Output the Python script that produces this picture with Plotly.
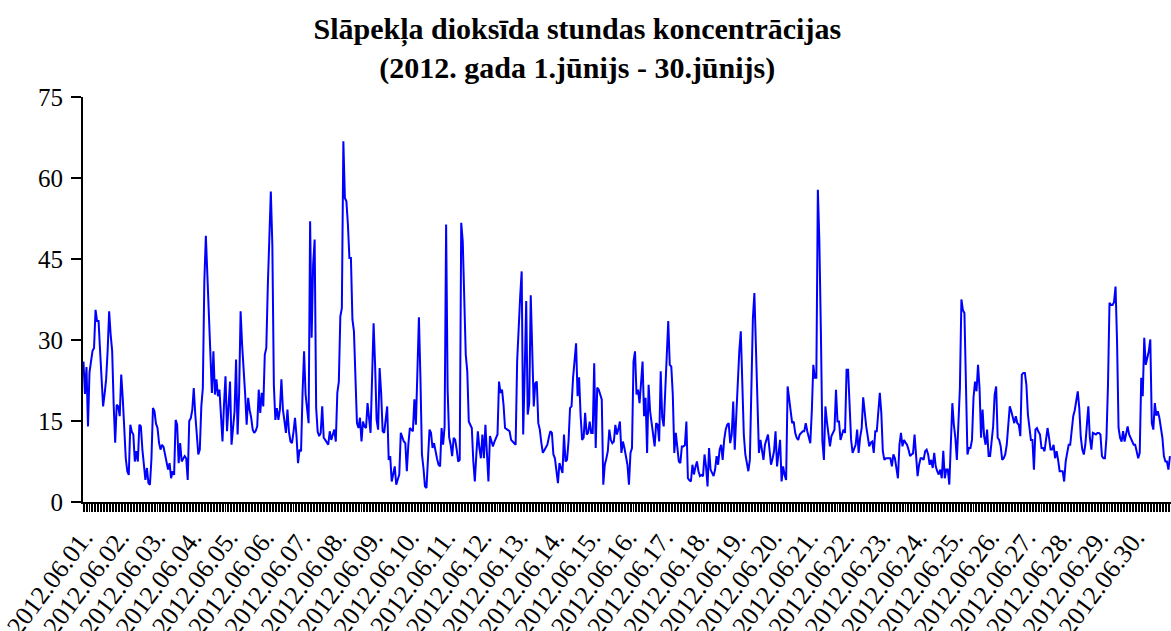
import plotly.graph_objects as go

# Hourly NO2 concentrations, 24 values per day (June 2012)
day_01 = [26, 20, 25, 14, 24, 26, 28, 28.5, 35.6, 33.5, 33.5, 28, 22, 17.7, 20, 22.7, 28, 35.3, 31, 28, 18, 11, 18, 17.7]
day_02 = [15.9, 23.6, 19.3, 14, 8.1, 5.7, 5.0, 14.3, 13, 12.5, 7.5, 9.4, 7.5, 14.3, 14, 9.7, 6, 4.1, 6.3, 3.5, 3.2, 8, 17.4, 16.8]
day_03 = [14.5, 13.7, 11, 9.7, 10.6, 10.2, 8.8, 7.5, 6, 7.2, 4.4, 5.7, 5, 15.2, 14.3, 7.2, 10.9, 7.5, 8, 8.5, 8.1, 4.1, 15, 15.5]
day_04 = [17, 21.1, 16.2, 12, 8.8, 9.7, 17.7, 21.1, 40.9, 49.3, 42.7, 34.1, 26.7, 20.2, 27.9, 19.9, 22.7, 19.6, 20.8, 15, 11.2, 18, 23.3, 13.1]
day_05 = [17, 22.3, 10.6, 14, 16.8, 26.4, 12.5, 20, 35.3, 29.1, 25.4, 20, 14.3, 19.3, 17, 15.6, 13.4, 12.8, 13.2, 14, 20.8, 16.5, 20.2, 17.7]
day_06 = [27.3, 28.5, 40, 51.4, 57.5, 47.7, 21.7, 15.2, 17.4, 15.2, 17.1, 22.7, 17.1, 15, 12.8, 17.1, 13, 11.2, 10.9, 13, 15.6, 12.2, 7.2, 9.7]
day_07 = [9.4, 20.2, 27.9, 19.9, 17, 14.6, 52, 30.4, 44, 48.6, 17.4, 13, 12.2, 12.8, 17.7, 11.9, 11.5, 11, 10.6, 13.1, 11.5, 12.5, 13.4, 11.2]
day_08 = [20.2, 22.3, 34.4, 35.9, 66.8, 56.3, 55.7, 51.4, 45.2, 45.2, 33.8, 31.6, 23, 14.6, 13.7, 15.6, 11.2, 14.9, 14, 13.7, 18.3, 15, 12.8, 23]
day_09 = [33.1, 25.4, 15.2, 13.4, 24.8, 20.2, 13.1, 12.8, 15, 17.7, 7.8, 8.5, 3.8, 5, 6.6, 3.2, 4, 5.1, 12.8, 11.9, 11.2, 10.9, 5.7, 10.6]
day_10 = [13.7, 13.4, 13.1, 19, 14.3, 24.2, 34.2, 23, 8.8, 6.3, 2.9, 2.6, 8, 13.4, 12.8, 10, 10.9, 9.1, 8, 6.9, 6.6, 13.7, 10.6, 14]
day_11 = [51.4, 20.8, 12, 10.6, 8.5, 11.9, 11.5, 9.7, 7.5, 7.8, 51.7, 48.3, 39, 27.3, 24.2, 14.9, 14.3, 13.7, 7.5, 3.8, 8.8, 13.1, 10, 8.1]
day_12 = [12.5, 8.1, 14.3, 9.4, 3.8, 12.2, 11, 10.3, 11.2, 11.8, 12.5, 22.3, 20.2, 20.8, 18, 13.7, 13.4, 13.3, 13.1, 11.5, 11.2, 10.9, 10.6, 26]
day_13 = [32.8, 38, 42.7, 12.5, 24, 37.2, 16.2, 18.3, 38.3, 25, 17.7, 22, 22.3, 14.6, 13.4, 11, 9.1, 9.6, 10, 10.6, 12, 13.1, 12.8, 8.8]
day_14 = [8.1, 5.7, 3.5, 7.2, 6.3, 5.4, 12.5, 7.5, 7.8, 11.2, 17.4, 17.7, 23, 26, 29.4, 19.6, 23.1, 16, 11.5, 11.9, 16.5, 12.5, 12.8, 14.9]
day_15 = [12.8, 12.8, 25.7, 10, 21.2, 20.8, 20, 19, 3.2, 6.9, 8, 9.4, 13.4, 11.5, 10.9, 11.2, 14.3, 12.5, 13.5, 14.9, 9.1, 11.2, 10, 8.1]
day_16 = [6.9, 3.2, 9.1, 10, 26, 27.9, 19.9, 20.8, 18.3, 22, 26, 15.9, 19.3, 9.1, 21.7, 16.8, 14.3, 12, 10.3, 14.6, 14.3, 11.2, 24.2, 15.6]
day_17 = [14, 20.5, 26, 33.5, 25.4, 25.1, 19.9, 9.1, 12.8, 10, 7.5, 7.2, 10.3, 10.3, 10.5, 14.9, 4.4, 4, 3.8, 6.9, 5.1, 6.5, 7.5, 5.7]
day_18 = [4.8, 5, 4.8, 8.8, 6.6, 2.9, 10, 6, 5.4, 4.8, 6, 8.5, 6.9, 9.7, 10.6, 7.8, 11.5, 13.4, 14.3, 14.6, 10.9, 12.5, 18.6, 9.7]
day_19 = [15.9, 23, 27.9, 31.6, 22.3, 12.5, 8.8, 7, 5.7, 7.8, 23.6, 34, 38.7, 27.3, 18, 9.1, 11.5, 9.5, 7.8, 10.6, 11.5, 12.5, 9.7, 6.9]
day_20 = [8, 9.4, 13.1, 6.6, 9, 11.5, 3.8, 6.6, 5, 4.1, 21.4, 19, 17, 14.6, 14.9, 12.8, 11.9, 11.5, 12.5, 12.8, 13.1, 13.1, 14.6, 13.1]
day_21 = [12, 10.9, 16.8, 25.4, 23, 23, 57.8, 48.3, 31.6, 11.2, 7.8, 17.7, 14.9, 12, 10.3, 12.2, 13, 13.4, 20.8, 14.9, 14.9, 11.5, 12.5, 13.4]
day_22 = [12.8, 24.5, 24.5, 16.5, 11.5, 9.1, 9.8, 10.6, 13.4, 9.1, 12, 13.7, 19.4, 16, 14, 12.2, 10.3, 11, 11.2, 9.1, 13.1, 13.1, 17.7, 20.2]
day_23 = [16.5, 9.4, 7.8, 8.1, 8.1, 8.1, 8.1, 6.6, 8.8, 8.1, 6, 4.4, 10.6, 12.8, 10.3, 11.5, 11, 10.6, 9.7, 8.5, 8.8, 9, 12.5, 7.5]
day_24 = [4.8, 6.9, 8.1, 8.1, 7.8, 9.4, 9.7, 8.8, 6.9, 7.8, 6.3, 9.1, 6.6, 5.7, 5.1, 6, 4.4, 9.5, 4.4, 6, 6, 3.2, 11.2, 18.3]
day_25 = [14.3, 11.9, 7.8, 14.3, 21.1, 37.5, 35.5, 35, 18, 8.8, 10, 10, 11.5, 19.3, 22.3, 20.5, 25.4, 21.1, 11.9, 17.1, 12.2, 10.6, 13.4, 8.5]
day_26 = [8.5, 11.2, 14, 19.9, 21.4, 11.9, 11.5, 10.3, 7.8, 8.1, 8.8, 10.6, 14, 17.7, 16.8, 15.9, 14.6, 15.9, 14.6, 14.3, 12.2, 23.6, 23.9, 23.9]
day_27 = [21.7, 16.2, 14, 11.5, 11.5, 6, 13.4, 13.7, 13, 12.5, 10, 10, 9.4, 11.5, 13.7, 11.9, 9.7, 9.7, 10.6, 8.1, 9.4, 7.8, 5.7, 5.7]
day_28 = [5.7, 3.8, 7.5, 9.1, 10.6, 10.6, 13, 15.9, 17, 18.6, 20.5, 17.4, 12, 9.7, 8.8, 10.6, 14, 17.7, 11.9, 9.7, 12.8, 12.6, 12.5, 12.8]
day_29 = [12.8, 12.5, 8.5, 8.1, 8.1, 12, 21.7, 36.9, 36.5, 36.5, 37, 39.9, 29.8, 13.7, 11.9, 11.2, 13.1, 11.2, 12.5, 14, 12.5, 11.8, 11.2, 10.6]
day_30 = [10.6, 9.5, 8.1, 9.1, 23, 19.6, 30.4, 25.4, 26.5, 27.9, 30.1, 14.6, 13.4, 18.3, 16, 16.8, 15.6, 13.4, 11.9, 8.5, 7.5, 7.5, 6, 8.5]

days = [day_01, day_02, day_03, day_04, day_05, day_06, day_07, day_08, day_09, day_10,
        day_11, day_12, day_13, day_14, day_15, day_16, day_17, day_18, day_19, day_20,
        day_21, day_22, day_23, day_24, day_25, day_26, day_27, day_28, day_29, day_30]

date_labels = ["2012.06.%02d." % d for d in range(1, 31)]
y_ticks = [0, 15, 30, 45, 60, 75]

no2 = [v for d in days for v in d]
hours = list(range(len(no2)))
day_starts = [24 * k for k in range(len(days))]

SERIF = "Liberation Serif, Times New Roman, serif"

fig = go.Figure(go.Scatter(
    x=hours, y=no2, mode="lines",
    line=dict(color="#0000FF", width=2),
    showlegend=False, hoverinfo="skip",
))

fig.update_layout(
    width=1171, height=631,
    margin=dict(l=83, r=0, t=97, b=129),
    paper_bgcolor="white", plot_bgcolor="white",
    title=dict(
        text="<b>Slāpekļa dioksīda stundas koncentrācijas</b><br><b>(2012. gada 1.jūnijs - 30.jūnijs)</b>",
        font=dict(family=SERIF, size=30, color="black"),
        x=0.493, xref="container", xanchor="center",
        y=1 - 38.5 / 631, yref="container", yanchor="middle",
    ),
)

fig.update_xaxes(
    range=[-0.3, 719.7], showgrid=False, zeroline=False,
    showline=True, linecolor="black", linewidth=2,
    tickmode="array", tickvals=day_starts, ticktext=date_labels,
    ticks="outside", ticklen=8, tickwidth=1, tickcolor="black",
    tickangle=-53, tickfont=dict(family=SERIF, size=26, color="black"),
    minor=dict(ticks="outside", dtick=1, tick0=0, ticklen=8, tickwidth=1,
               tickcolor="black", showgrid=False),
    automargin=False,
)
fig.update_yaxes(
    range=[0, 75], showgrid=False, zeroline=False,
    showline=True, linecolor="black", linewidth=2,
    tickmode="array", tickvals=y_ticks,
    ticks="outside", ticklen=10, tickwidth=2, tickcolor="black",
    tickfont=dict(family=SERIF, size=25, color="black"),
    ticklabelstandoff=3,
    automargin=False,
)

# remove the browser's default page margin so the figure fills the window exactly
fig.write_html("out.html", config={"displayModeBar": False},
               post_script="document.body.style.margin='0px';")
